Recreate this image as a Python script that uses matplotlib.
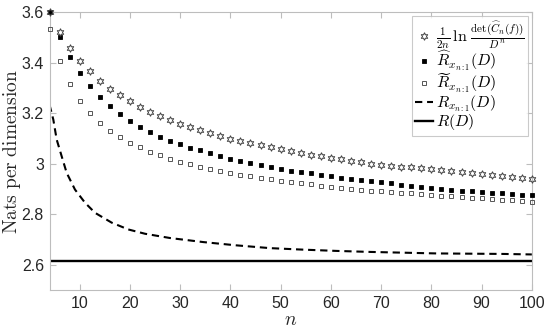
import matplotlib
matplotlib.use("Agg")
import matplotlib.pyplot as plt
from matplotlib.ticker import FuncFormatter

plt.rcParams['font.family'] = ['Liberation Sans', 'DejaVu Sans']
plt.rcParams['mathtext.fontset'] = 'cm'

# ---- data ----
n_pts = [4, 6, 8, 10, 12, 14, 16, 18, 20, 22, 24, 26, 28, 30, 32, 34, 36, 38, 40,
         42, 44, 46, 48, 50, 52, 54, 56, 58, 60, 62, 64, 66, 68, 70, 72, 74, 76,
         78, 80, 82, 84, 86, 88, 90, 92, 94, 96, 98, 100]

det_bound = [3.600, 3.523, 3.458, 3.407, 3.366, 3.329, 3.298, 3.271, 3.250, 3.226,
             3.207, 3.190, 3.174, 3.159, 3.145, 3.133, 3.122, 3.111, 3.100, 3.091,
             3.083, 3.074, 3.066, 3.057, 3.050, 3.043, 3.036, 3.029, 3.024, 3.018,
             3.012, 3.006, 3.001, 2.996, 2.992, 2.989, 2.986, 2.983, 2.980, 2.976,
             2.972, 2.968, 2.964, 2.960, 2.955, 2.951, 2.947, 2.943, 2.938]

r_hat = [3.600, 3.504, 3.423, 3.361, 3.307, 3.265, 3.228, 3.198, 3.171, 3.147,
         3.127, 3.108, 3.092, 3.077, 3.063, 3.053, 3.041, 3.030, 3.020, 3.012,
         3.002, 2.994, 2.988, 2.980, 2.973, 2.968, 2.962, 2.957, 2.950, 2.945,
         2.939, 2.934, 2.930, 2.926, 2.922, 2.917, 2.913, 2.909, 2.905, 2.901,
         2.897, 2.894, 2.892, 2.888, 2.885, 2.883, 2.880, 2.877, 2.875]

r_tilde = [3.535, 3.408, 3.315, 3.249, 3.201, 3.162, 3.131, 3.108, 3.084, 3.065,
           3.048, 3.034, 3.021, 3.009, 2.998, 2.989, 2.980, 2.971, 2.963, 2.957,
           2.950, 2.945, 2.938, 2.932, 2.927, 2.923, 2.919, 2.914, 2.910, 2.906,
           2.902, 2.898, 2.894, 2.891, 2.887, 2.884, 2.883, 2.880, 2.877, 2.874,
           2.871, 2.869, 2.866, 2.863, 2.860, 2.857, 2.855, 2.852, 2.849]

n_line = [4, 4.76, 5.43, 6.42, 7.42, 9.07, 11.06, 13.05, 16.37, 19.68, 23.0, 28.0,
          34.6, 41.2, 47.9, 54.5, 61.1, 67.8, 74.4, 81.0, 87.7, 94.3, 100]
r_seq = [3.234, 3.175, 3.096, 3.030, 2.964, 2.898, 2.846, 2.806, 2.767, 2.740,
         2.723, 2.706, 2.690, 2.677, 2.666, 2.660, 2.655, 2.651, 2.648, 2.645,
         2.644, 2.643, 2.641]

r_D = 2.614

x_ticks = [10, 20, 30, 40, 50, 60, 70, 80, 90, 100]
y_ticks = [2.6, 2.8, 3.0, 3.2, 3.4, 3.6]

labels = [r'$\frac{1}{2n}\,\ln\,\frac{\det(\widehat{C}_n(f))}{D^n}$',
          r'$\widehat{R}_{x_{n:1}}(D)$',
          r'$\widetilde{R}_{x_{n:1}}(D)$',
          r'$R_{x_{n:1}}(D)$',
          r'$R(D)$']

# ---- figure ----
fig = plt.figure(figsize=(5.5, 3.33), dpi=100)
ax = fig.add_axes([0.09, 0.129, 0.877, 0.834])

axcol = '#bdbdbd'
txtcol = '#262626'

star = (6, 1, 0)
ax.plot(n_pts, r_hat, linestyle='none', marker='s', markersize=3.2,
        markerfacecolor='black', markeredgecolor='black', markeredgewidth=0.6,
        clip_on=False, label=labels[1], zorder=3)
ax.plot(n_pts, r_tilde, linestyle='none', marker='s', markersize=3.4,
        markerfacecolor='none', markeredgecolor='#555555', markeredgewidth=0.7,
        clip_on=False, label=labels[2], zorder=3)
ax.plot(n_pts, det_bound, linestyle='none', marker=star, markersize=5.5,
        markerfacecolor='none', markeredgecolor='#444444', markeredgewidth=0.7,
        clip_on=False, label=labels[0], zorder=4)
ax.plot(n_line, r_seq, color='black', linestyle=(0, (3.5, 2.3)), linewidth=1.5,
        label=labels[3])
ax.plot([4, 100], [r_D, r_D], color='black', linestyle='-', linewidth=1.7,
        label=labels[4])

ax.set_xlim(4, 100)
ax.set_ylim(2.5, 3.6)
ax.set_xticks(x_ticks)
ax.set_yticks(y_ticks)
ax.yaxis.set_major_formatter(FuncFormatter(lambda v, p: '%g' % round(v, 2)))

for s in ax.spines.values():
    s.set_color(axcol)
    s.set_linewidth(0.8)
ax.tick_params(direction='in', length=4, width=0.8, color=axcol,
               labelcolor=txtcol, labelsize=11.5, top=True, right=True, pad=4)

ax.set_xlabel(r'$n$', fontsize=14, color=txtcol, labelpad=1)
ax.set_ylabel(r'$\mathrm{Nats\ per\ dimension}$', fontsize=14, color=txtcol)
ax.yaxis.set_label_coords(-0.054, 0.5)

handles, labs = ax.get_legend_handles_labels()
order = [2, 0, 1, 3, 4]
leg = ax.legend([handles[i] for i in order], [labs[i] for i in order],
                loc='upper right', fontsize=11.5, frameon=True, fancybox=False,
                handlelength=1.1, handletextpad=0.2, borderpad=0.2,
                labelspacing=-0.1, borderaxespad=0.25, numpoints=1)
leg.get_frame().set_edgecolor(axcol)
leg.get_frame().set_linewidth(0.8)

fig.savefig('out.png', dpi=100)
